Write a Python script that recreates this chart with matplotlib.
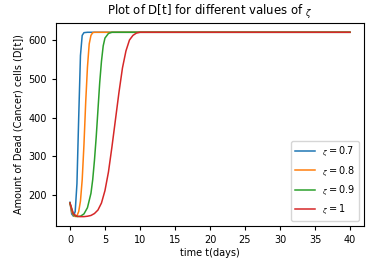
import numpy as np
import matplotlib.pyplot as plt

t1 = [0, 0.25, 0.5, 0.75, 1.0, 1.25, 1.5, 1.75, 2.0, 2.5, 40]
d1 = [182, 152, 146, 158, 230, 400, 560, 612, 619, 620, 620]

t2 = [0, 0.25, 0.5, 0.75, 1.0, 1.25, 1.5, 1.75, 2.0, 2.25, 2.5, 2.75, 3.0, 3.25, 3.5, 40]
d2 = [180, 158, 148, 145, 147, 158, 185, 240, 330, 440, 530, 590, 612, 619, 620, 620]

t3 = [0, 0.5, 1.0, 1.5, 2.0, 2.5, 3.0, 3.25, 3.5, 3.75, 4.0, 4.25, 4.5, 4.75, 5.0, 5.5, 6.0, 40]
d3 = [180, 150, 145, 146, 152, 168, 205, 240, 290, 350, 420, 490, 545, 585, 605, 617, 620, 620]

t4 = [0, 0.5, 1, 1.5, 2, 2.5, 3, 3.5, 4, 4.5, 5, 5.5, 6, 6.5, 7, 7.5, 8, 8.5, 9, 9.5, 10, 40]
d4 = [180, 152, 146, 145, 145, 146, 148, 153, 162, 180, 212, 260, 325, 395, 465, 528, 572, 600, 612, 618, 620, 620]

labels = ['0.7', '0.8', '0.9', '1']
sym = r'$_\zeta$'

plt.figure(figsize=(3.78, 2.62), dpi=100)
for t, d, lab in zip([t1, t2, t3, t4], [d1, d2, d3, d4], labels):
    plt.plot(t, d, lw=1.1, label=sym + '$=$' + lab)

plt.title('Plot of D[t] for different values of ' + sym, fontsize=8.5)
plt.xlabel('time t(days)', fontsize=7, labelpad=2)
plt.ylabel('Amount of Dead (Cancer) cells (D[t])', fontsize=7)
plt.xticks(range(0, 41, 5), fontsize=7)
plt.yticks([200, 300, 400, 500, 600], fontsize=7)
plt.tick_params(length=3)
plt.legend(loc='lower right', fontsize=7)
plt.subplots_adjust(left=0.148, right=0.963, top=0.912, bottom=0.138)
plt.savefig('out.png')
